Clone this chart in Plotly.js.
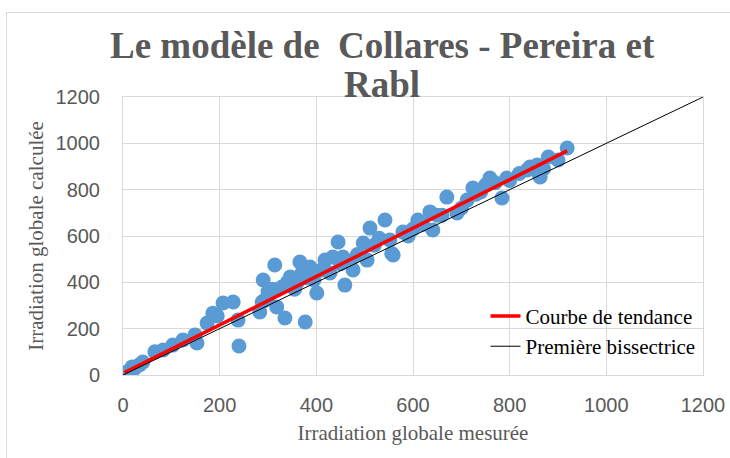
<!DOCTYPE html>
<html><head><meta charset="utf-8">
<script src="https://cdn.plot.ly/plotly-3.0.1.min.js"></script>
<style>
html,body{margin:0;padding:0;width:730px;height:458px;overflow:hidden;background:#fff;}
#frame{position:absolute;left:6px;top:12px;width:760px;height:500px;border:1px solid #D9D9D9;}
#chart{position:absolute;left:0;top:0;width:730px;height:458px;}
</style></head><body>
<div id="frame"></div>
<div id="chart"></div>
<script>
// measured vs calculated global irradiation
var measured = [3,8,12,19,25,35,41,66,83,103,124,149,153,174,186,195,207,228,238,240,
283,288,290,294,300,300,310,314,318,329,335,340,346,355,360,366,370,377,380,387,
395,401,411,418,428,434,445,450,455,459,470,476,485,497,505,511,520,530,542,552,
556,559,579,590,600,610,620,635,641,650,660,670,691,700,712,724,730,740,750,759,
770,784,794,800,820,836,842,857,860,863,870,880,900,919];
var calculated = [5,13,10,35,30,45,56,100,108,129,151,173,138,224,267,255,311,315,237,125,
272,315,410,324,340,360,370,475,294,380,246,400,423,370,397,488,440,229,420,466,
410,354,453,496,440,509,574,480,509,388,490,453,520,570,496,634,560,590,669,583,
525,518,617,600,630,669,650,704,626,690,690,768,699,720,755,807,780,790,820,850,
830,764,850,840,870,885,898,906,870,855,890,941,928,980];
// trend line coefficients (y = a*x + b)
var trendSlope = 1.045;
var trendIntercept = 7;
var bisX = [0, 1200];
var bisY = [0, 1200];
var xTicks = [0,200,400,600,800,1000,1200];
var yTicks = [0,200,400,600,800,1000,1200];

var xmin = Math.min.apply(null, measured), xmax = Math.max.apply(null, measured);
var trendX = [xmin, xmax];
var trendY = trendX.map(function(v){return trendSlope*v + trendIntercept;});

var grey = '#595959';
var data = [
 {x: measured, y: calculated, mode:'markers', type:'scatter', showlegend:false,
  marker:{color:'#5B9BD5', size:15, line:{width:0}}},
 {x: trendX, y: trendY, mode:'lines', type:'scatter', name:'Courbe de tendance',
  line:{color:'#FF0000', width:3.5}},
 {x: bisX, y: bisY, mode:'lines', type:'scatter', name:'Première bissectrice',
  line:{color:'#000000', width:1}}
];
var layout = {
 width:730, height:458,
 margin:{l:123, r:27, t:97, b:83},
 paper_bgcolor:'rgba(0,0,0,0)', plot_bgcolor:'#fff',
 showlegend:true,
 legend:{x:0.625, y:0.285, xanchor:'left', yanchor:'top', bgcolor:'rgba(0,0,0,0)',
   font:{family:'Liberation Serif', size:21, color:'#000'}, tracegroupgap:0},
 xaxis:{range:[0,1200], tickvals:xTicks, showgrid:true, gridcolor:'#D9D9D9', zeroline:false,
   showline:true, linecolor:'#D9D9D9', mirror:true, ticks:'', ticklabelstandoff:12,
   tickfont:{family:'Liberation Sans', size:20, color:grey},
   title:{text:'Irradiation globale mesurée', standoff:10,
     font:{family:'Liberation Serif', size:21, color:grey}}},
 yaxis:{range:[0,1200], tickvals:yTicks, showgrid:true, gridcolor:'#D9D9D9', zeroline:false,
   showline:true, linecolor:'#D9D9D9', mirror:true, ticks:'', ticklabelstandoff:18,
   tickfont:{family:'Liberation Sans', size:20, color:grey},
   title:{text:'Irradiation globale calculée', standoff:6,
     font:{family:'Liberation Serif', size:21, color:grey}}},
 annotations:[
  {text:'<b>Le modèle de  Collares - Pereira et</b>', xref:'paper', yref:'paper',
   x:(382-123)/580, y:(375-68)/278, xanchor:'center', yanchor:'bottom', showarrow:false,
   font:{family:'Liberation Serif', size:37, color:grey}},
  {text:'<b>Rabl</b>', xref:'paper', yref:'paper',
   x:(382-123)/580, y:(375-107)/278, xanchor:'center', yanchor:'bottom', showarrow:false,
   font:{family:'Liberation Serif', size:37, color:grey}}
 ]
};
Plotly.newPlot('chart', data, layout, {displayModeBar:false, staticPlot:true});
</script></body></html>
